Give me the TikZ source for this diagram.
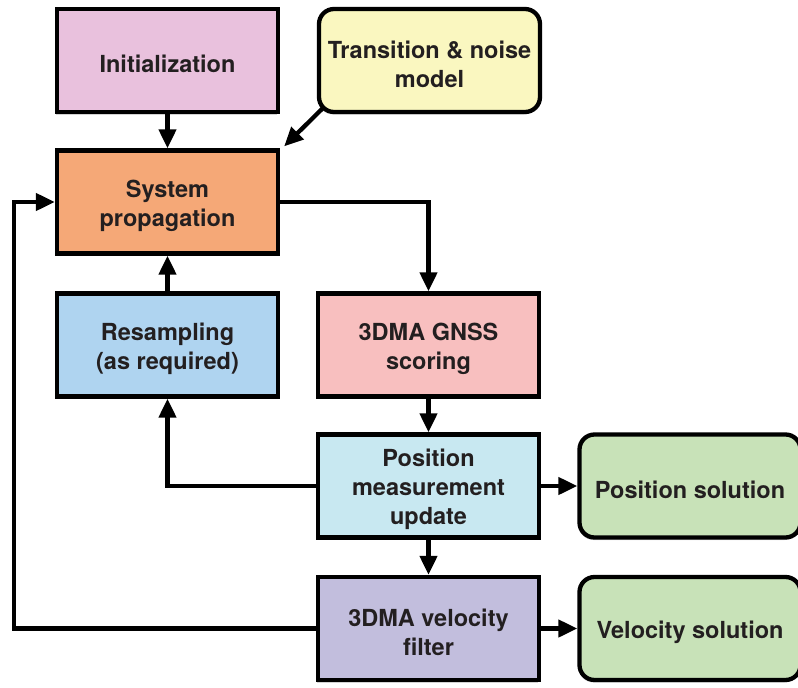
\documentclass[tikz,border=0pt]{standalone}
\usepackage{fontspec}
\setmainfont{TeX Gyre Heros}
\usetikzlibrary{arrows.meta,shadows,calc}

\definecolor{txt}{HTML}{231F20}
\definecolor{cInit}{HTML}{E9C1DD}
\definecolor{cTrans}{HTML}{FAF7C0}
\definecolor{cSys}{HTML}{F5A877}
\definecolor{cRes}{HTML}{AFD4F0}
\definecolor{cGnss}{HTML}{F8BFBF}
\definecolor{cPos}{HTML}{C8E8F1}
\definecolor{cSol}{HTML}{C8E2B8}
\definecolor{cVel}{HTML}{C2BEDD}

\tikzset{
  box/.style={draw=black, line width=4.3pt, minimum width=221pt, minimum height=103pt,
    drop shadow={shadow xshift=-1pt, shadow yshift=-2.5pt, opacity=0.35, fill=gray}},
  roundbox/.style={box, rounded corners=15pt},
  caption/.style={align=center, text=txt, yshift=-3.5pt,
    font=\fontsize{23.5}{29}\selectfont\bfseries},
  arr/.style={line width=4.3pt, -{Triangle[length=19pt,width=17pt]}}
}

\begin{document}
\begin{tikzpicture}[x=1pt,y=-1pt]
  \useasboundingbox (0,0) rectangle (798,688);

  % process blocks; each caption is set as a centred label of its block
  \node[box, fill=cInit, label={[caption]center:Initialization}] (init) at (167.5,60.5) {};
  \node[roundbox, fill=cTrans, label={[caption]center:Transition \& noise\\model}] (trans) at (429.5,60.5) {};
  \node[box, fill=cSys, label={[caption]center:System\\propagation}] (sys) at (167.5,202) {};
  \node[box, fill=cRes, label={[caption]center:Resampling\\(as required)}] (res) at (167.5,345) {};
  \node[box, fill=cGnss, label={[caption]center:3DMA GNSS\\scoring}] (gnss) at (428.5,345) {};
  \node[box, fill=cPos, label={[caption]center:Position\\measurement\\update}] (pos) at (428.5,486) {};
  \node[roundbox, fill=cSol, label={[caption]center:Position solution}] (possol) at (690,486) {};
  \node[box, fill=cVel, label={[caption]center:3DMA velocity\\filter}] (vel) at (428.5,628.5) {};
  \node[roundbox, fill=cSol, label={[caption]center:Velocity solution}] (velsol) at (690,628.5) {};

  \coordinate (loop) at (14,628.5);
  \coordinate (tcorner) at ($(trans.south west)+(7,-7)$);

  % connectors
  \draw[arr] (init.south) -- (sys.north);
  \draw[arr] (tcorner) -- ($(sys.north east)+(4,-2)$);
  \draw[arr] (sys.east) -| (gnss.north);
  \draw[arr] (gnss.south) -- (pos.north);
  \draw[arr] (pos.west) -| (res.south);
  \draw[arr] (res.north) -- (sys.south);
  \draw[arr] (pos.east) -- (possol.west);
  \draw[arr] (pos.south) -- (vel.north);
  \draw[arr] (vel.east) -- (velsol.west);
  \draw[arr] (vel.west) -- (loop) |- (sys.west);
\end{tikzpicture}
\end{document}
